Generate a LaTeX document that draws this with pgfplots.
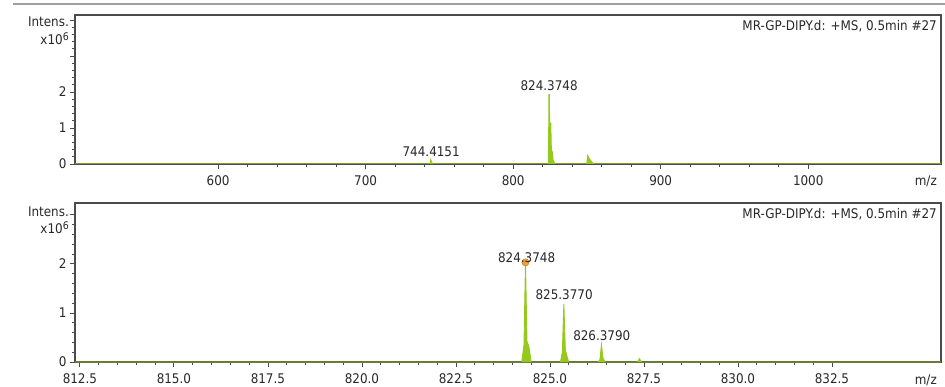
\documentclass[border=0pt]{standalone}
\usepackage{pgfplots}
\pgfplotsset{compat=1.18}
\usepackage{fontspec}
\IfFontExistsTF{DejaVu Sans Condensed}{\setmainfont{DejaVu Sans Condensed}}{\setmainfont{DejaVu Sans}[FakeStretch=0.88]}
\definecolor{peakgreen}{RGB}{150,200,30}
\definecolor{axiscol}{RGB}{75,75,75}
\definecolor{textcol}{RGB}{40,40,40}
\definecolor{markorange}{RGB}{240,160,50}
\newcommand{\fs}{\fontsize{13.3}{15}\selectfont}
\pgfplotsset{
  msstyle/.style={
    scale only axis,
    anchor=south west,
    axis line style={draw=axiscol, line width=1.1pt},
    tick style={draw=axiscol, line width=0.8pt},
    tick align=outside,
    xtick pos=bottom, ytick pos=left,
    major tick length=5pt, minor tick length=3pt,
    minor x tick num=4, minor y tick num=4,
    tick label style={font=\fs, text=textcol},
    xticklabel style={yshift=-3.5pt},
    /pgf/number format/assume math mode=true,
    /pgf/number format/1000 sep={},
    ymin=0,
    clip mode=individual,
  }
}
\begin{document}
\begin{tikzpicture}[x=1pt,y=1pt]
\useasboundingbox (0,0) rectangle (945,386);
\draw[gray!75, line width=1.5pt] (13,382) -- (945,382);

% ---------- top panel ----------
\begin{axis}[msstyle,
  at={(75pt,222pt)}, width=866pt, height=149pt,
  xmin=503, xmax=1090, ymax=4.14,
  xtick={600,700,800,900,1000},
  ytick={0,1,2,3,4}, yticklabels={0,1,2,{},{}},
]
\addplot[draw=peakgreen, fill=peakgreen, line width=1.3pt] table {
x y
503 0
743.9 0
744.2 0.1
744.7 0.05
745.3 0
823.9 0
824.15 0.6
824.37 1.95
824.7 0.7
825.1 0.95
825.38 1.15
825.8 0.35
826.38 0.35
826.9 0.12
827.38 0.07
828.2 0
850.0 0
850.6 0.22
851.5 0.15
852.5 0.09
853.5 0.04
855 0
1090 0
} \closedcycle;
\node[font=\fs, text=textcol, anchor=south, inner sep=2pt] at (axis cs:824.3748,1.97) {824.3748};
\node[font=\fs, text=textcol, anchor=south, inner sep=2pt] at (axis cs:744.4151,0.14) {744.4151};
\node[font=\fs, text=textcol, anchor=north east, inner sep=0pt] at ([xshift=-4pt,yshift=-5pt]rel axis cs:1,1) {MR-GP-DIPY.d: +MS, 0.5min \#27};
\node[font=\fs, text=textcol, anchor=east, inner sep=0pt] at ([xshift=-4pt,yshift=-17pt]rel axis cs:1,0) {m/z};
\node[font=\fs, text=textcol, anchor=east, inner sep=0pt] at ([xshift=-6pt,yshift=-7pt]rel axis cs:0,1) {Intens.};
\node[font=\fs, text=textcol, anchor=east, inner sep=0pt] at ([xshift=-6pt,yshift=-24pt]rel axis cs:0,1) {x10\raisebox{0.55ex}{\fontsize{10.5}{12}\selectfont 6}};
\end{axis}

% ---------- bottom panel ----------
\begin{axis}[msstyle,
  at={(75pt,24pt)}, width=866pt, height=159pt,
  xmin=812.37, xmax=835.4, ymax=3.24,
  xtick={812.5,815,817.5,820,822.5,825,827.5,830,832.5},
  xticklabel style={/pgf/number format/.cd, fixed, fixed zerofill, precision=1},
  ytick={0,1,2,3}, yticklabels={0,1,2,{}},
]
\addplot[draw=peakgreen, fill=peakgreen, line width=0.9pt] table {
x y
812.37 0
824.25 0
824.31 0.35
824.35 2.03
824.39 0.42
824.44 0.32
824.5 0
825.28 0
825.33 0.2
825.37 1.18
825.41 0.25
825.46 0.1
825.5 0
826.28 0
826.33 0.05
826.37 0.35
826.41 0.08
826.47 0
827.33 0
827.38 0.07
827.43 0
835.4 0
} \closedcycle;
\addplot[only marks, mark=*, mark size=3.6pt, mark options={fill=markorange, draw=markorange!80!black, line width=0.5pt}] coordinates {(824.35,2.03)};
\node[font=\fs, text=textcol, anchor=center, inner sep=0pt] at (axis cs:824.38,2.13) {824.3748};
\node[font=\fs, text=textcol, anchor=south, inner sep=2pt] at (axis cs:825.377,1.22) {825.3770};
\node[font=\fs, text=textcol, anchor=south, inner sep=2pt] at (axis cs:826.379,0.38) {826.3790};
\node[font=\fs, text=textcol, anchor=north east, inner sep=0pt] at ([xshift=-4pt,yshift=-5pt]rel axis cs:1,1) {MR-GP-DIPY.d: +MS, 0.5min \#27};
\node[font=\fs, text=textcol, anchor=east, inner sep=0pt] at ([xshift=-4pt,yshift=-18pt]rel axis cs:1,0) {m/z};
\node[font=\fs, text=textcol, anchor=east, inner sep=0pt] at ([xshift=-6pt,yshift=-9pt]rel axis cs:0,1) {Intens.};
\node[font=\fs, text=textcol, anchor=east, inner sep=0pt] at ([xshift=-6pt,yshift=-25pt]rel axis cs:0,1) {x10\raisebox{0.55ex}{\fontsize{10.5}{12}\selectfont 6}};
\end{axis}
\end{tikzpicture}
\end{document}
